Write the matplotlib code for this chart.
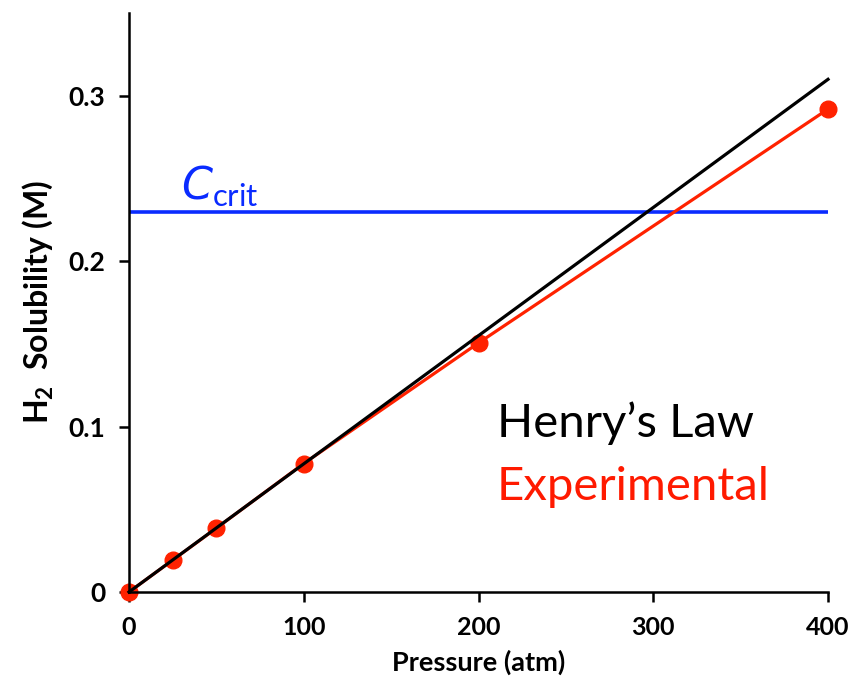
import numpy as np
import matplotlib
matplotlib.use("Agg")
import matplotlib.pyplot as plt

plt.rcParams['font.family'] = ['Lato', 'DejaVu Sans']
plt.rcParams['mathtext.fontset'] = 'custom'
plt.rcParams['mathtext.rm'] = 'Lato'
plt.rcParams['mathtext.it'] = 'DejaVu Sans:italic'
plt.rcParams['mathtext.bf'] = 'Lato:bold'

# data
pressure = [0, 25, 50, 100, 200, 400]
solubility = [0.0, 0.0193, 0.0386, 0.0777, 0.1506, 0.292]
henry_x = [0, 400]
henry_y = [0.0, 0.310]
c_crit = 0.23

fig = plt.figure(figsize=(8.56, 6.93), dpi=100)
ax = fig.add_axes([0.1507, 0.1457, 0.8166, 0.8353])

ax.axhline(c_crit, color='#0A2BFF', lw=2.6, zorder=1)
ax.plot(pressure, solubility, color='#FF2200', lw=2.3, marker='o', markersize=12,
        zorder=2, clip_on=False)
ax.plot(henry_x, henry_y, color='black', lw=2.3, zorder=3, clip_on=False)

ax.set_xlim(0, 400)
ax.set_ylim(0, 0.35)
ax.set_xticks([0, 100, 200, 300, 400])
ax.set_xticklabels(['0', '100', '200', '300', '400'])
ax.set_yticks([0, 0.1, 0.2, 0.3])
ax.set_yticklabels(['0', '0.1', '0.2', '0.3'])
for s in ['top', 'right']:
    ax.spines[s].set_visible(False)
for s in ['left', 'bottom']:
    ax.spines[s].set_linewidth(1.8)
ax.tick_params(direction='out', length=7, width=1.8, labelsize=18, pad=10)
ax.tick_params(axis='y', labelsize=19)
for lab in ax.get_xticklabels() + ax.get_yticklabels():
    lab.set_fontweight('bold')

ax.set_xlabel('Pressure (atm)', fontsize=19.5, fontweight='bold', labelpad=8)
ax.set_ylabel(r'H$_\mathbf{2}$  Solubility (M)', fontsize=23, fontweight='bold', labelpad=10)

ax.text(29.8, 0.237, r'$\mathit{C}_{\mathrm{crit}}$', color='#0A2BFF', fontsize=32,
        va='baseline')
ax.text(210.6, 0.0938, 'Henry\u2019s Law', color='black', fontsize=34, va='baseline')
ax.text(210.6, 0.0557, 'Experimental', color='#FF1A00', fontsize=34, va='baseline')

fig.savefig('out.png', dpi=100)
